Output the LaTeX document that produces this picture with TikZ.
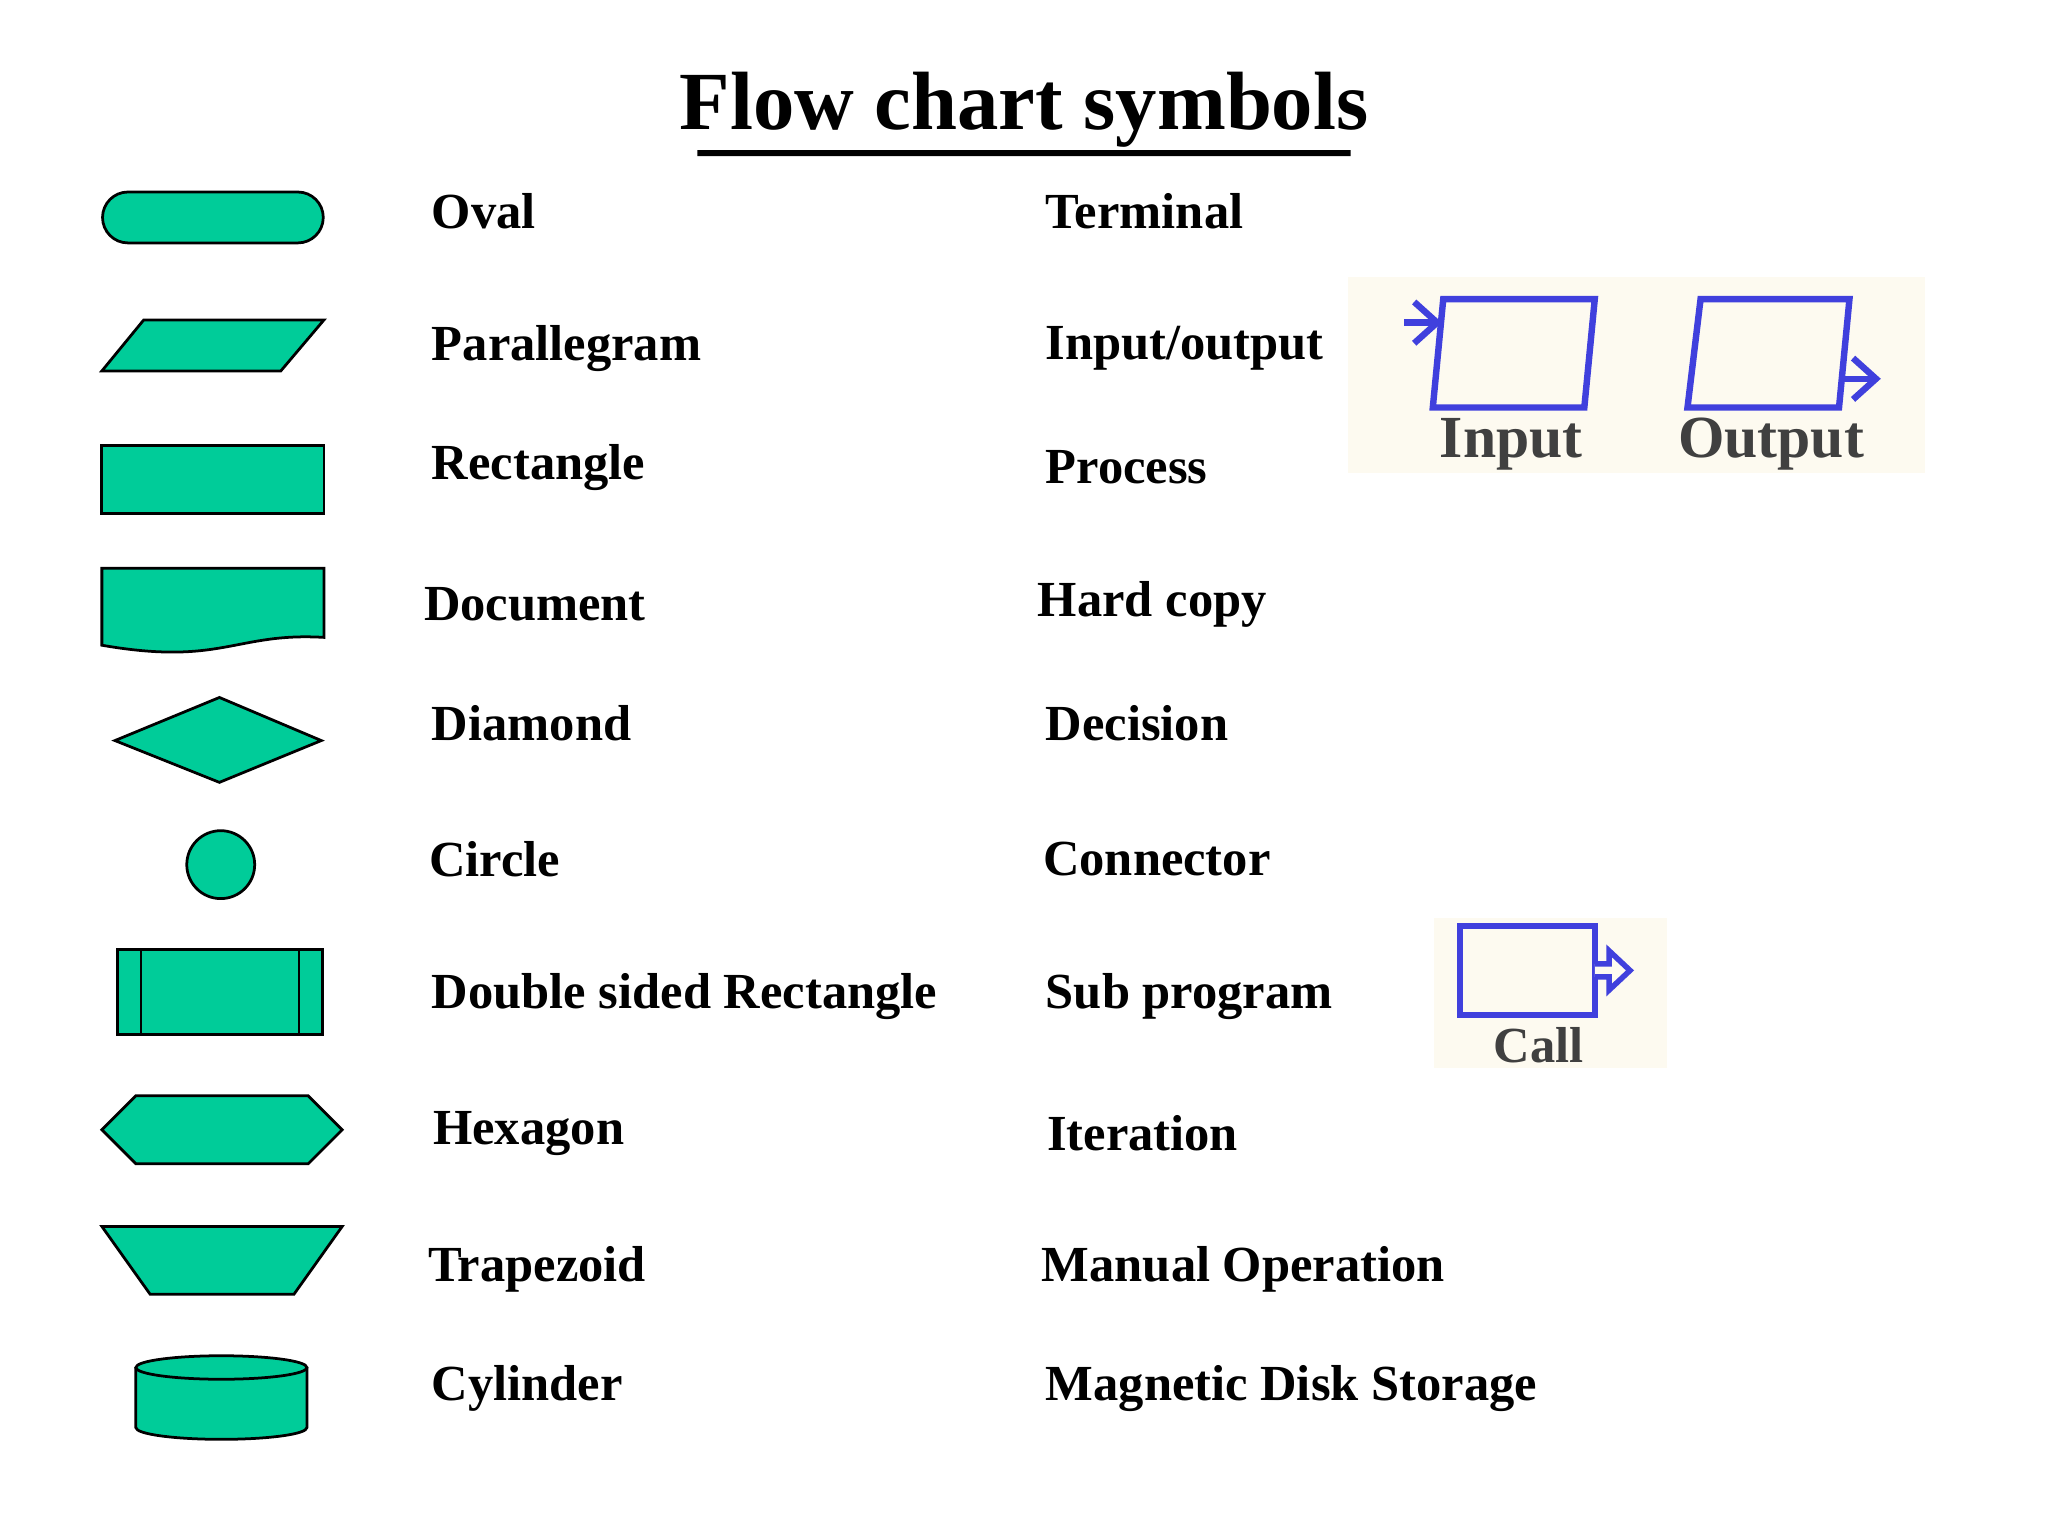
\documentclass[tikz,border=0pt]{standalone}
\usepackage{fontspec}
\setmainfont{Liberation Serif}
\usetikzlibrary{arrows.meta}
\definecolor{fc}{HTML}{00CC99}
\definecolor{bl}{HTML}{4040DD}
\definecolor{cream}{HTML}{FDFAF0}
\begin{document}
\begin{tikzpicture}[x=0.01cm,y=-0.01cm,
  sym/.style={draw=black,fill=fc,line width=0.6pt},
  lbl/.style={anchor=west,font=\fontsize{11pt}{13pt}\selectfont\bfseries,inner sep=0},
  blu/.style={draw=bl,line width=1.4pt,fill=white}]
\useasboundingbox (0,0) rectangle (1568,1176);
\node[font=\fontsize{18pt}{22pt}\selectfont\bfseries] (title) at (784,84) {Flow chart symbols};
\draw[line width=1.3pt] (title.south west)++(26,-8) coordinate (u1) -- ([xshift=-0.26cm,yshift=0.08cm]title.south east) coordinate (u2);
% shapes
\draw[sym] (98,147) -- (228,147) arc[start angle=-90,end angle=90,radius=19.5] -- (98,186) arc[start angle=90,end angle=270,radius=19.5] -- cycle;
\draw[sym] (78,284) -- (110,245) -- (248,245) -- (215,284) -- cycle;
\draw[sym] (78,341) rectangle (248,393);
\draw[sym] (78,435) -- (248,435) -- (248,488) .. controls (180,484) and (170,510) .. (78,494) -- cycle;
\draw[sym] (88,567) -- (168,534) -- (246,567) -- (168,599) -- cycle;
\draw[sym] (169,662) circle[radius=26];
\draw[sym] (90,727) rectangle (247,792);
\draw (108,727) -- (108,792) (229,727) -- (229,792);
\draw[sym] (78,865) -- (104,839) -- (236,839) -- (262,865) -- (236,891) -- (104,891) -- cycle;
\draw[sym] (78,939) -- (262,939) -- (225,991) -- (115,991) -- cycle;
\draw[sym] (104,1047) -- (104,1093) arc[start angle=180,end angle=0,x radius=65.5,y radius=9] -- (235,1047);
\draw[sym] (169.5,1047) ellipse[x radius=65.5,y radius=9];
% left labels
\node[lbl] (l1) at (330,162) {Oval};
\node[lbl] (l2) at (330,267) {Parallegram};
\node[lbl] (l3) at (330,358) {Rectangle};
\node[lbl] (l4) at (324,463) {Document};
\node[lbl] (l5) at (330,554) {Diamond};
\node[lbl] (l6) at (328,658) {Circle};
\node[lbl] (l7) at (330,763) {Double sided Rectangle};
\node[lbl] (l8) at (331,868) {Hexagon};
\node[lbl] (l9) at (327,972) {Trapezoid};
\node[lbl] (l10) at (330,1063) {Cylinder};
% right labels
\node[lbl] (r1) at (800,162) {Terminal};
\node[lbl] (r2) at (800,267) {Input/output};
\node[lbl] (r3) at (800,358) {Process};
\node[lbl] (r4) at (794,463) {Hard copy};
\node[lbl] (r5) at (800,554) {Decision};
\node[lbl] (r6) at (798,658) {Connector};
\node[lbl] (r7) at (800,763) {Sub program};
\node[lbl] (r8) at (801,868) {Iteration};
\node[lbl] (r9) at (797,972) {Manual Operation};
\node[lbl] (r10) at (800,1063) {Magnetic Disk Storage};
% inset 1
\fill[cream] (1032,212) rectangle (1474,362);
\draw[blu,fill=cream] (1097,312) -- (1105,229) -- (1221,229) -- (1213,312) -- cycle;
\coordinate (ia) at (1075,247); \coordinate (ib) at (1104,247);
\draw[bl,line width=1.4pt,-{Straight Barb[length=5pt,width=9pt]}] (ia) -- (ib);
\draw[blu,fill=cream] (1292,312) -- (1302,229) -- (1416,229) -- (1408,312) -- cycle;
\coordinate (oa) at (1410,290); \coordinate (ob) at (1440,290);
\draw[bl,line width=1.4pt,-{Straight Barb[length=5pt,width=9pt]}] (oa) -- (ob);
\node[font=\fontsize{13pt}{16pt}\selectfont\bfseries,text=black!75] (tin) at (1157,340) {Input};
\node[font=\fontsize{13pt}{16pt}\selectfont\bfseries,text=black!75] (tout) at (1356,340) {Output};
% inset 2
\fill[cream] (1098,703) rectangle (1276,818);
\draw[blu,fill=cream] (1118,709) rectangle (1221,777);
\draw[bl,line width=1.2pt,fill=cream] (1221,738) -- (1232,738) -- (1232,728) -- (1248,743) -- (1232,758) -- (1232,748) -- (1221,748);
\node[font=\fontsize{11pt}{14pt}\selectfont\bfseries,text=black!75] (call) at (1178,800) {Call};
\end{tikzpicture}
\end{document}
